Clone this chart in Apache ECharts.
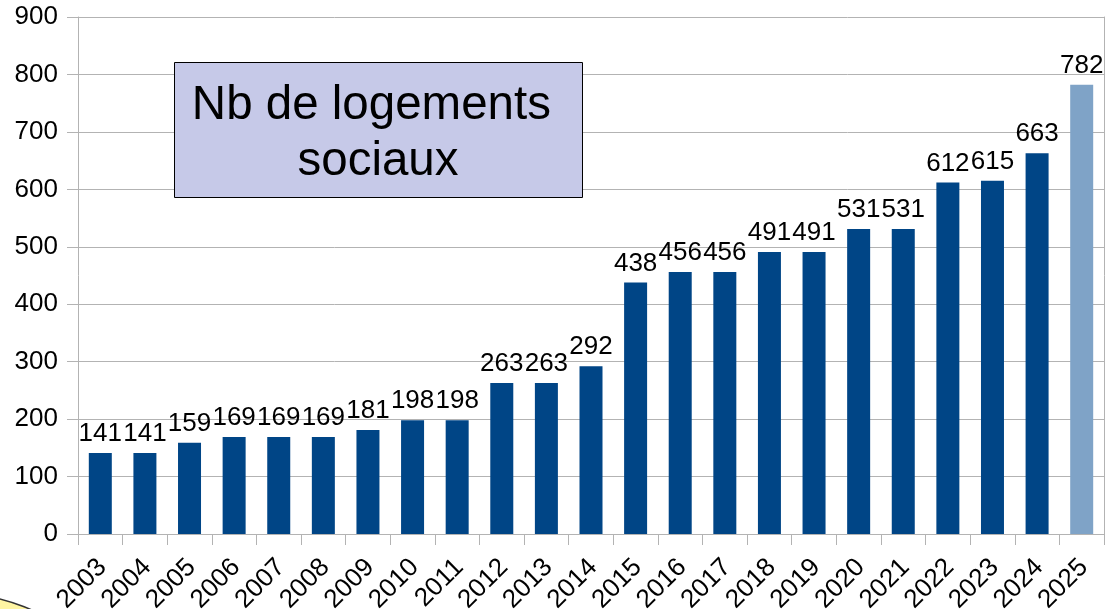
<!DOCTYPE html>
<html>
<head>
<meta charset="utf-8">
<script src="https://cdn.jsdelivr.net/npm/echarts@6/dist/echarts.min.js"></script>
<style>
html,body{margin:0;padding:0;background:#fff;}
#chart{width:1113px;height:609px;}
</style>
</head>
<body>
<div id="chart"></div>
<script>
const categories = ['2003','2004','2005','2006','2007','2008','2009','2010','2011','2012','2013','2014','2015','2016','2017','2018','2019','2020','2021','2022','2023','2024','2025'];
const values = [141,141,159,169,169,169,181,198,198,263,263,292,438,456,456,491,491,531,531,612,615,663,782];
const yTicks = [0,100,200,300,400,500,600,700,800,900];
const titleLines = ['Nb de logements ', 'sociaux'];

const FONT = '"Liberation Sans", Arial, sans-serif';
const chart = echarts.init(document.getElementById('chart'), null, {renderer:'canvas'});

const barData = values.map((v, i) => ({
  value: v,
  itemStyle: { color: categories[i] === '2025' ? '#7fa3c7' : '#004586' }
}));

chart.setOption({
  animation: false,
  backgroundColor: '#ffffff',
  textStyle: { fontFamily: FONT },
  grid: { left: 78, right: 9, top: 17, bottom: 75, containLabel: false, outerBoundsMode: 'none' },
  xAxis: {
    type: 'category',
    data: categories,
    boundaryGap: true,
    axisLine: { show: true, lineStyle: { color: '#b3b3b3', width: 1 } },
    axisTick: { show: true, length: 11, alignWithLabel: false, lineStyle: { color: '#b3b3b3' } },
    axisLabel: { rotate: 45, interval: 0, fontSize: 26, color: '#000', fontFamily: FONT, margin: 13, align: 'right', verticalAlign: 'top', padding: [0, 10, 0, 0] },
    splitLine: { show: false }
  },
  yAxis: [{
    type: 'value',
    min: yTicks[0],
    max: yTicks[yTicks.length - 1],
    interval: yTicks[1] - yTicks[0],
    axisLine: { show: true, lineStyle: { color: '#b3b3b3' } },
    axisTick: { show: true, length: 11, lineStyle: { color: '#b3b3b3' } },
    axisLabel: { fontSize: 26, color: '#000', fontFamily: FONT, margin: 20 },
    splitLine: { show: true, lineStyle: { color: '#b3b3b3', width: 1 } }
  }, {
    type: 'value',
    position: 'right',
    min: yTicks[0],
    max: yTicks[yTicks.length - 1],
    interval: yTicks[1] - yTicks[0],
    axisLine: { show: true, lineStyle: { color: '#b3b3b3' } },
    axisTick: { show: false },
    axisLabel: { show: false },
    splitLine: { show: false }
  }],
  series: [{
    type: 'bar',
    data: barData,
    barWidth: 23,
    label: {
      show: true,
      position: 'top',
      distance: 6,
      fontSize: 26,
      color: '#000',
      fontFamily: FONT
    }
  }],
  graphic: [
    {
      type: 'circle',
      shape: { cx: -48, cy: 789, r: 196 },
      style: { fill: '#fff5a3', stroke: '#333', lineWidth: 1.5 },
      z: 0
    },
    {
      type: 'rect',
      shape: { x: 174.5, y: 62.5, width: 408, height: 135 },
      style: { fill: '#c6c9e8', stroke: '#000', lineWidth: 1 },
      z: 100
    },
    {
      type: 'text',
      x: 378, y: 105.5,
      style: { text: titleLines[0], font: '47.5px ' + FONT, fill: '#000', textAlign: 'center', textVerticalAlign: 'middle' },
      z: 101
    },
    {
      type: 'text',
      x: 378, y: 162,
      style: { text: titleLines[1], font: '47.5px ' + FONT, fill: '#000', textAlign: 'center', textVerticalAlign: 'middle' },
      z: 101
    }
  ]
});
</script>
</body>
</html>
